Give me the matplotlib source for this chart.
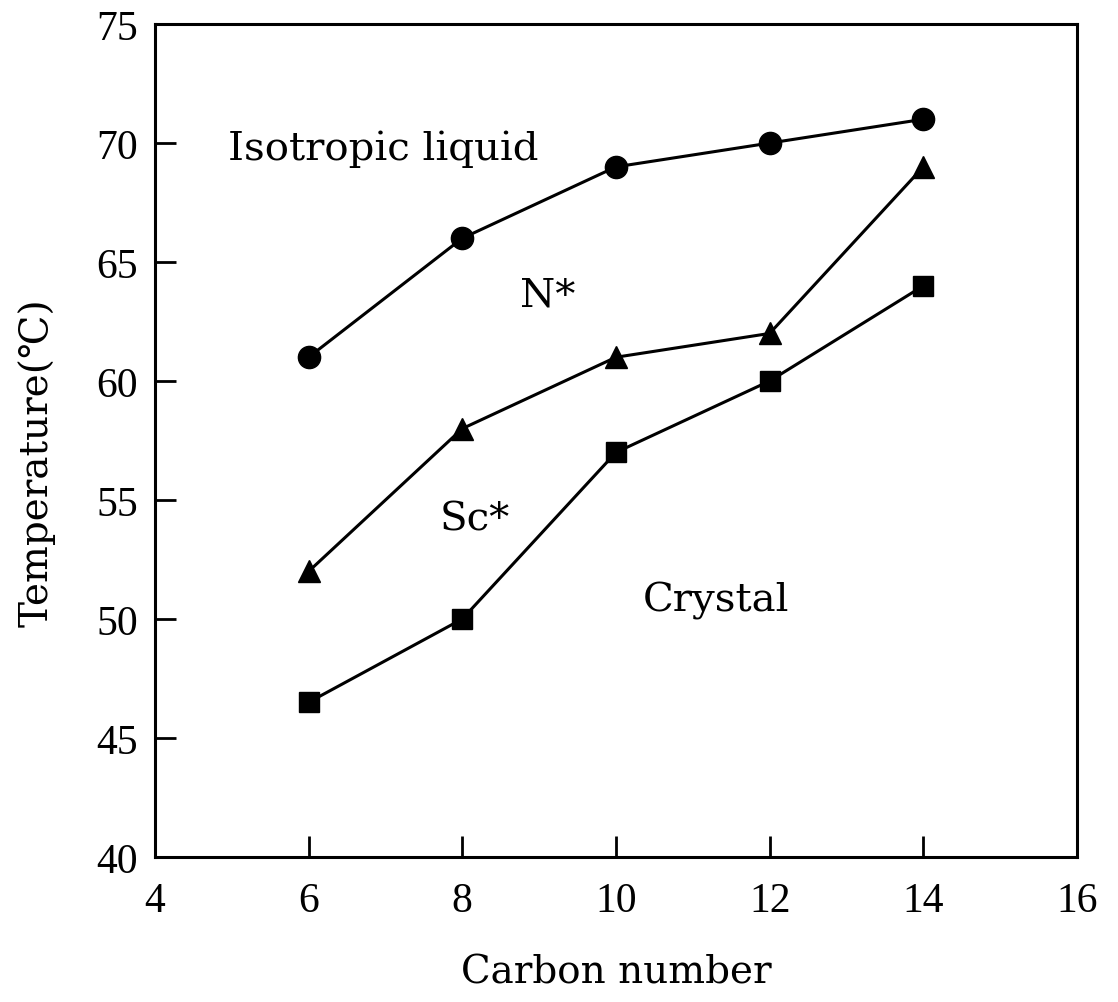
import numpy as np
import matplotlib
matplotlib.use("Agg")
import matplotlib.pyplot as plt

plt.rcParams['font.family'] = ['Liberation Serif', 'DejaVu Serif']

# carbon number of the alkyl chain
carbon = [6, 8, 10, 12, 14]
# transition temperatures (deg C)
iso_temp = [61, 66, 69, 70, 71]       # N* -> isotropic liquid
sc_temp = [52, 58, 61, 62, 69]        # Sc* -> N*
cr_temp = [46.5, 50, 57, 60, 64]      # crystal -> Sc*

xticks = [4, 6, 8, 10, 12, 14, 16]
yticks = [40, 45, 50, 55, 60, 65, 70, 75]

wide = ['DejaVu Serif']

fig = plt.figure(figsize=(11.18, 10.03), dpi=100)
ax = fig.add_axes([0.1386, 0.1446, 0.8247, 0.8304])

ax.plot(carbon, iso_temp, color='black', lw=2.2, marker='o', ms=16)
ax.plot(carbon, sc_temp, color='black', lw=2.2, marker='^', ms=16)
ax.plot(carbon, cr_temp, color='black', lw=2.2, marker='s', ms=15)

ax.set_xlim(4, 16)
ax.set_ylim(40, 75)
ax.set_xticks(xticks)
ax.set_yticks(yticks)
ax.tick_params(direction='in', length=15, width=2, labelsize=30)
ax.tick_params(axis='x', pad=18)
ax.tick_params(axis='y', pad=12)
for s in ax.spines.values():
    s.set_linewidth(2.2)

ax.text(4.95, 69.8, 'Isotropic liquid', fontsize=29, va='center', family=wide)
ax.text(8.75, 63.6, 'N*', fontsize=29, va='center', family=wide)
ax.text(7.7, 54.2, 'Sc*', fontsize=29, va='center', family=wide)
ax.text(10.35, 50.8, 'Crystal', fontsize=29, va='center', family=wide)

ax.set_xlabel('Carbon number', fontsize=28, labelpad=24, family=wide)
ax.set_ylabel('Temperature(℃)', fontsize=28, family=wide)
ax.yaxis.set_label_coords(-0.108, 0.475)

fig.savefig('out.png', dpi=100)
